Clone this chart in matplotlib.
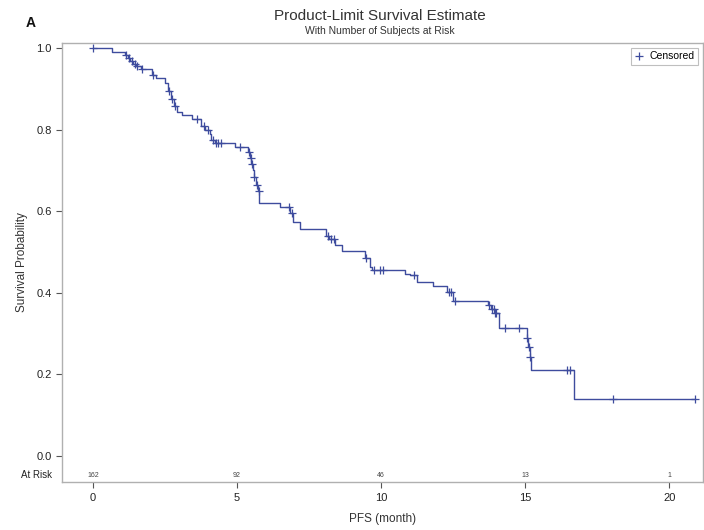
import numpy as np
import matplotlib
matplotlib.use("Agg")
import matplotlib.pyplot as plt

plt.rcParams['font.family'] = ['Liberation Sans', 'DejaVu Sans']

# Kaplan-Meier step data: time of each drop and survival after it
step_times = [0, 0.65, 1.1, 1.2, 1.3, 1.4, 1.5, 1.65, 2.05, 2.2, 2.5, 2.6, 2.7, 2.8, 2.9,
              3.1, 3.45, 3.75, 3.9, 4.05, 4.1, 4.25, 4.93, 5.38, 5.45, 5.5, 5.55, 5.6,
              5.65, 5.72, 5.77, 6.49, 6.84, 6.95, 7.2, 8.1, 8.2, 8.4, 8.65, 9.44, 9.6,
              9.7, 10.83, 11.0, 11.25, 11.8, 12.3, 12.5, 13.7, 13.8, 13.95, 14.1, 15.05,
              15.1, 15.15, 15.2, 16.7]
step_surv = [1.0, 0.99, 0.982, 0.975, 0.968, 0.961, 0.955, 0.948, 0.935, 0.926, 0.914,
             0.895, 0.875, 0.858, 0.843, 0.836, 0.826, 0.81, 0.80, 0.788, 0.775, 0.767,
             0.757, 0.745, 0.73, 0.715, 0.70, 0.685, 0.665, 0.65, 0.62, 0.61, 0.596,
             0.574, 0.556, 0.54, 0.532, 0.517, 0.503, 0.485, 0.463, 0.456, 0.446, 0.444,
             0.426, 0.417, 0.402, 0.38, 0.37, 0.36, 0.35, 0.314, 0.29, 0.267, 0.243,
             0.21, 0.14]
end_time = 20.9

censor_times = [0, 1.15, 1.25, 1.35, 1.45, 1.52, 1.7, 2.1, 2.65, 2.75, 2.85, 3.6, 3.85,
                4.0, 4.15, 4.27, 4.35, 4.45, 5.1, 5.42, 5.48, 5.52, 5.6, 5.68, 5.75, 6.8,
                6.9, 8.15, 8.25, 8.35, 9.48, 9.75, 9.95, 10.05, 11.15, 12.35, 12.42,
                12.55, 13.75, 13.85, 13.9, 13.95, 14.0, 14.3, 14.8, 15.05, 15.12, 15.18,
                16.45, 16.55, 18.05, 20.9]

risk_times = [0, 5, 10, 15, 20]
risk_counts = ['162', '92', '46', '13', '1']

line_color = '#3E4C9E'

fig = plt.figure(figsize=(7.04, 5.30), dpi=100)
ax = fig.add_axes([0.088, 0.0906, 0.911, 0.828])

xs = list(step_times) + [end_time]
ys = list(step_surv) + [step_surv[-1]]
ax.step(xs, ys, where='post', color=line_color, lw=1.0)

st = np.array(step_times)
sv = np.array(step_surv)
idx = np.searchsorted(st, np.array(censor_times), side='right') - 1
censor_surv = sv[idx]
ax.plot(censor_times, censor_surv, linestyle='none', marker='+', ms=6, mew=0.9,
        color=line_color, label='Censored')

ax.set_xlim(-1.076, 21.18)
ax.set_ylim(-0.064, 1.012)
ax.set_xticks([0, 5, 10, 15, 20])
ax.set_yticks([0.0, 0.2, 0.4, 0.6, 0.8, 1.0])
ax.set_yticklabels(['0.0', '0.2', '0.4', '0.6', '0.8', '1.0'])
ax.tick_params(axis='both', labelsize=8, color='#555555', labelcolor='#222222',
               length=4, width=0.8)
ax.tick_params(axis='x', pad=4)
for sp in ax.spines.values():
    sp.set_color('#b0b0b0')
    sp.set_linewidth(1.0)

ax.set_ylabel('Survival Probability', fontsize=8.5, color='#333333', labelpad=6)
ax.set_xlabel('PFS (month)', fontsize=8.5, color='#333333', labelpad=7)

# At-risk row
yr = -0.047
for t, c in zip(risk_times, risk_counts):
    ax.text(t, yr, c, ha='center', va='center', fontsize=5, color='#444444')
ax.text(-0.016, yr, 'At Risk', transform=ax.get_yaxis_transform(), ha='right',
        va='center', fontsize=7, color='#222222')

leg = ax.legend(loc='upper right', fontsize=7.5, frameon=True, handlelength=1.0,
                handletextpad=0.5, borderpad=0.3, borderaxespad=0.5, fancybox=False)
leg.get_frame().set_edgecolor('#b0b0b0')
leg.get_frame().set_linewidth(0.8)

fig.text(0.54, 0.970, 'Product-Limit Survival Estimate', ha='center', va='center',
         fontsize=11, color='#333333')
fig.text(0.54, 0.942, 'With Number of Subjects at Risk', ha='center', va='center',
         fontsize=7.5, color='#333333')
fig.text(0.043, 0.957, 'A', ha='center', va='center', fontsize=10, fontweight='bold',
         color='#111111')

fig.savefig('out.png', dpi=100)
